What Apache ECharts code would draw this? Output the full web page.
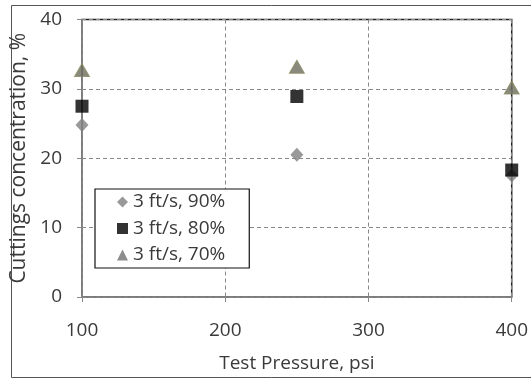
<!DOCTYPE html>
<html>
<head>
<meta charset="utf-8">
<script src="https://cdn.jsdelivr.net/npm/echarts@6/dist/echarts.min.js"></script>
<style>
  html, body { margin: 0; padding: 0; background: #fff; }
  #chart { width: 531px; height: 380px; }
</style>
</head>
<body>
<div id="chart"></div>
<script>
// Test pressures (psi) and cuttings concentration (%) for each flow case
const pressures = [100, 250, 400];
const conc90 = [24.8, 20.5, 17.5];
const conc80 = [27.5, 28.9, 18.3];
const conc70 = [32.7, 33.2, 30.2];
const seriesNames = ['3 ft/s, 90%', '3 ft/s, 80%', '3 ft/s, 70%'];

const FONT = '"Open Sans", sans-serif';
const TEXT = '#3a3a3a';
const pairs = vals => pressures.map((p, i) => [p, vals[i]]);

const chart = echarts.init(document.getElementById('chart'), null, { renderer: 'canvas' });

chart.setOption({
  animation: false,
  backgroundColor: '#fff',
  graphic: [{
    type: 'rect',
    shape: { x: 11.5, y: 5.5, width: 530, height: 372 },
    style: { fill: 'none', stroke: '#555', lineWidth: 1 },
    silent: true, z: -1
  }],
  grid: {
    left: 82, right: 14, top: 19.5, bottom: 83,
    show: true, borderColor: '#222', borderWidth: 1.5, backgroundColor: 'transparent'
  },
  legend: {
    orient: 'vertical',
    left: 95, top: 189,
    padding: [2, 24, 2, 22],
    itemGap: 4.5,
    itemWidth: 11, itemHeight: 11,
    backgroundColor: '#fff',
    borderColor: '#111', borderWidth: 1.2,
    textStyle: { fontFamily: FONT, fontSize: 19, lineHeight: 22, color: TEXT },
    data: [
      { name: seriesNames[0] },
      { name: seriesNames[1] },
      { name: seriesNames[2], itemStyle: { borderWidth: 0, color: '#707070' } }
    ]
  },
  xAxis: {
    type: 'value', min: 100, max: 400, interval: 100,
    name: 'Test Pressure, psi', nameLocation: 'middle', nameGap: 57,
    nameTextStyle: { fontFamily: FONT, fontSize: 19, color: TEXT },
    axisLine: { show: true, lineStyle: { color: '#888', width: 1.5 } },
    axisTick: { show: true, length: 5, lineStyle: { color: '#888' } },
    axisLabel: { fontFamily: FONT, fontSize: 19, color: TEXT, margin: 24 },
    splitLine: { show: true, lineStyle: { color: '#888', type: [4, 3], width: 1 } }
  },
  yAxis: {
    type: 'value', min: 0, max: 40, interval: 10,
    name: 'Cuttings concentration, %', nameLocation: 'middle', nameGap: 52,
    nameTextStyle: { fontFamily: FONT, fontSize: 21, color: TEXT },
    axisLine: { show: true, lineStyle: { color: '#888', width: 1.5 } },
    axisTick: { show: true, length: 5, lineStyle: { color: '#888' } },
    axisLabel: { fontFamily: FONT, fontSize: 19, color: TEXT, margin: 20 },
    splitLine: { show: true, lineStyle: { color: '#888', type: [4, 3], width: 1 } }
  },
  series: [
    {
      name: seriesNames[0], type: 'scatter', symbol: 'diamond', symbolSize: [13, 14],
      itemStyle: { color: '#7f7f7f' }, data: pairs(conc90), clip: false, z: 3
    },
    {
      name: seriesNames[1], type: 'scatter', symbol: 'rect', symbolSize: 13,
      itemStyle: { color: '#000' }, data: pairs(conc80), clip: false, z: 4
    },
    {
      name: seriesNames[2], type: 'scatter', symbol: 'triangle', symbolSize: [15, 13],
      itemStyle: { color: '#6c6c5c', borderColor: '#8c8c60', borderWidth: 1 },
      data: pairs(conc70), clip: false, z: 5
    }
  ]
});
</script>
</body>
</html>
